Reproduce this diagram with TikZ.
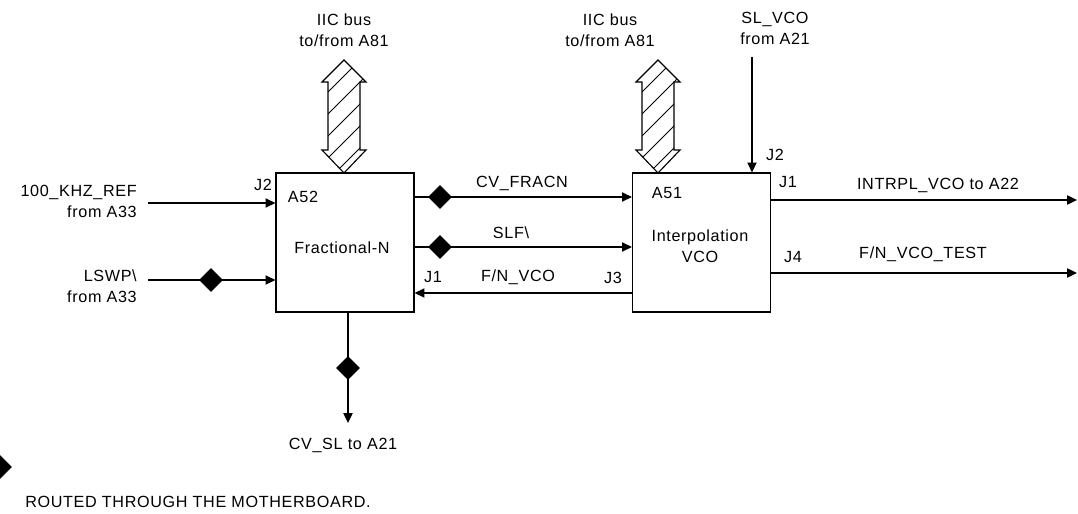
\documentclass[tikz,border=0pt]{standalone}
\usepackage{fontspec}
\setmainfont{Liberation Sans}[LetterSpace=4]
\usetikzlibrary{arrows.meta,shapes.geometric}

\begin{document}
\begin{tikzpicture}[x=0.025cm,y=-0.025cm,
  blk/.style={draw,line width=0.8pt,minimum width=3.45cm,minimum height=3.475cm,inner sep=0},
  sig/.style={line width=1pt,-{Triangle[length=7pt,width=6.5pt]}},
  dia/.style={diamond,fill=black,inner sep=0,minimum size=0.6cm},
  lbl/.style={font=\fontsize{11.5}{15}\selectfont,inner sep=0}]
\useasboundingbox (0,0) rectangle (1078,513);
% Boards
\node[blk] (fn) at (345,242.5) {};
\node[blk] (iv) at (701.5,242.5) {};
\node[lbl] (a52) at (303,197) {A52};
\node[lbl] (fnname) at (342,248) {Fractional-N};
\node[lbl] (a51) at (667,193) {A51};
\node[lbl,align=center] (ivname) at (700,246.5) {Interpolation\\VCO};
% IIC bus arrows
\foreach \bx in {344,658} {
  \begin{scope}
    \clip (\bx,60) -- ++(22,22) -- ++(-6,0) -- ++(0,68) -- ++(6,0) -- (\bx,173)
      -- ++(-22,-23) -- ++(6,0) -- ++(0,-68) -- ++(-6,0) -- cycle;
    \foreach \k in {0,...,6} \draw[line width=0.6pt] (\bx-30,84+22*\k) -- ++(60,-60);
  \end{scope}
  \draw[line width=0.8pt] (\bx,60) -- ++(22,22) -- ++(-6,0) -- ++(0,68) -- ++(6,0) -- (\bx,173)
    -- ++(-22,-23) -- ++(6,0) -- ++(0,-68) -- ++(-6,0) -- cycle;
}
\node[lbl,align=center] (iic1) at (344,30.5) {IIC bus\\to/from A81};
\node[lbl,align=center] (iic2) at (610,30.5) {IIC bus\\to/from A81};
% Inputs to Fractional-N
\coordinate (refin) at (148,203);
\draw[sig] (refin) -- (fn.west |- refin);
\node[lbl,align=right,anchor=east] (reflbl) at (137,201) {100\_KHZ\_REF\\from A33};
\node[lbl] (j2a) at (263,185) {J2};
\coordinate (lswpin) at (148,280);
\draw[sig] (lswpin) -- (fn.west |- lswpin);
\node[dia] (dlswp) at (211,280) {};
\node[lbl,align=right,anchor=east] (lswplbl) at (137,286) {LSWP\textbackslash\\from A33};
% Between the boards
\coordinate (cvf) at (0,197);
\draw[sig] (fn.east |- cvf) -- (iv.west |- cvf);
\node[dia] (dcvf) at (440,197) {};
\node[lbl] (cvflbl) at (522,183) {CV\_FRACN};
\coordinate (slf) at (0,247);
\draw[sig] (fn.east |- slf) -- (iv.west |- slf);
\node[dia] (dslf) at (440,247) {};
\node[lbl] (slflbl) at (511,233) {SLF\textbackslash};
\coordinate (fnvco) at (0,293);
\draw[sig] (iv.west |- fnvco) -- (fn.east |- fnvco);
\node[lbl] (fnvcolbl) at (518,277) {F/N\_VCO};
\node[lbl] (j1a) at (433,277) {J1};
\node[lbl] (j3) at (613,278) {J3};
% SL_VCO input
\coordinate (slvco) at (752,57);
\draw[sig] (slvco) -- (iv.north -| slvco);
\node[lbl,align=center] (slvcolbl) at (775,28) {SL\_VCO\\from A21};
\node[lbl] (j2b) at (775,155) {J2};
% Outputs of Interpolation VCO
\coordinate (intout) at (1077,200);
\draw[sig] (iv.east |- intout) -- (intout);
\node[lbl] (j1b) at (788,182) {J1};
\node[lbl] (intlbl) at (938,185) {INTRPL\_VCO to A22};
\coordinate (testout) at (1077,273);
\draw[sig] (iv.east |- testout) -- (testout);
\node[lbl] (j4) at (793,257) {J4};
\node[lbl] (testlbl) at (923,254) {F/N\_VCO\_TEST};
% CV_SL output
\coordinate (cvsl) at (348,423);
\draw[sig] (fn.south -| cvsl) -- (cvsl);
\node[dia] (dcvsl) at (348,368) {};
\node[lbl] (cvsllbl) at (343,445) {CV\_SL to A21};
% Legend
\node[dia] (dleg) at (0,467) {};
\node[lbl,anchor=west] (leglbl) at (25,502) {ROUTED THROUGH THE MOTHERBOARD.};
\end{tikzpicture}
\end{document}
